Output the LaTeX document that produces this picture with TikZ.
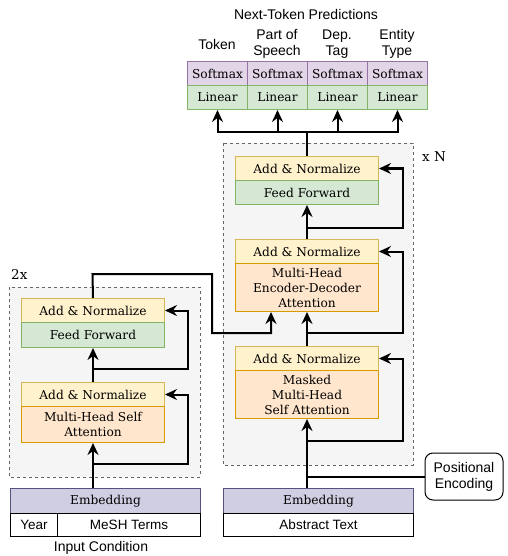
\documentclass[tikz,border=0pt]{standalone}
\usepackage{fontspec}
\setmainfont{DejaVu Serif}
\newfontfamily\labelfont{Liberation Sans}
\usetikzlibrary{arrows.meta,calc}
\definecolor{anF}{HTML}{FFF2CC}\definecolor{anD}{HTML}{D6B656}
\definecolor{ffF}{HTML}{D5E8D4}\definecolor{ffD}{HTML}{82B366}
\definecolor{mhF}{HTML}{FFE6CC}\definecolor{mhD}{HTML}{D79B00}
\definecolor{smF}{HTML}{E1D5E7}\definecolor{smD}{HTML}{9673A6}
\definecolor{emF}{HTML}{D0CEE2}\definecolor{emD}{HTML}{56517E}
\definecolor{bgF}{HTML}{F5F5F5}\definecolor{bgD}{HTML}{666666}
\tikzset{
  base/.style={draw, line width=1pt, anchor=north west, inner sep=0pt, align=center,
    font=\fontsize{12.2}{15}\selectfont},
  addn/.style={base, fill=anF, draw=anD},
  ffwd/.style={base, fill=ffF, draw=ffD},
  mha/.style={base, fill=mhF, draw=mhD},
  smx/.style={base, fill=smF, draw=smD},
  lin/.style={base, fill=ffF, draw=ffD},
  emb/.style={base, fill=emF, draw=emD},
  plain/.style={base, fill=white, draw=black, font=\labelfont\fontsize{13.5}{15}\selectfont},
  lbl/.style={font=\labelfont\fontsize{14}{16}\selectfont, align=center, inner sep=0pt},
  grp/.style={draw=bgD, fill=bgF, dashed, line width=0.8pt},
  arr/.style={line width=2pt, -{Stealth[length=12pt,width=11pt,inset=4pt]}},
  ln/.style={line width=2pt},
}
\begin{document}
\begin{tikzpicture}[x=1pt,y=-1pt]
\useasboundingbox (0,0) rectangle (507,556);
% groups
\draw[grp] (223,143) rectangle (413,465);
\draw[grp] (9,287) rectangle (200,477);
\node[font=\fontsize{13.5}{15}\selectfont, anchor=west, inner sep=0pt] (xn) at (422,157) {x N};
\node[font=\fontsize{13.5}{15}\selectfont, anchor=west, inner sep=0pt] (tx) at (11,274) {2x};
% top
\node[lbl] (title) at (306,14) {Next-Token Predictions};
\node[lbl] (t1) at (217,44) {Token};
\node[lbl] (t2) at (277,44) {Part of\\Speech};
\node[lbl] (t3) at (337,44) {Dep.\\Tag};
\node[lbl] (t4) at (397,44) {Entity\\Type};
\foreach \i/\x in {1/187,2/247,3/307,4/367}{
  \node[smx, minimum width=60pt, minimum height=24pt] (sm\i) at (\x,61) {Softmax};
  \node[lin, minimum width=60pt, minimum height=24pt] (li\i) at (\x,85) {Linear};
}
% decoder
\node[addn, minimum width=143pt, minimum height=24pt] (dA1) at (235,156) {Add \& Normalize};
\node[ffwd, minimum width=143pt, minimum height=24pt] (dF1) at (235,180) {Feed Forward};
\node[addn, minimum width=143pt, minimum height=24pt] (dA2) at (235,239) {Add \& Normalize};
\node[mha, minimum width=143pt, minimum height=48pt] (dM2) at (235,263) {Multi-Head\\Encoder-Decoder\\Attention};
\node[addn, minimum width=143pt, minimum height=24pt] (dA3) at (235,346) {Add \& Normalize};
\node[mha, minimum width=143pt, minimum height=48pt] (dM3) at (235,370) {Masked\\Multi-Head\\Self Attention};
% encoder
\node[addn, minimum width=143pt, minimum height=24pt] (eA1) at (21,298) {Add \& Normalize};
\node[ffwd, minimum width=143pt, minimum height=25pt] (eF1) at (21,322) {Feed Forward};
\node[addn, minimum width=143pt, minimum height=24pt] (eA2) at (21,382) {Add \& Normalize};
\node[mha, minimum width=143pt, minimum height=36pt] (eM2) at (21,406) {Multi-Head Self\\Attention};
% embeddings
\node[emb, minimum width=190pt, minimum height=25pt] (emL) at (10,488) {Embedding};
\node[plain, minimum width=47pt, minimum height=23pt] (yr) at (10,513) {Year};
\node[plain, minimum width=143pt, minimum height=23pt] (ms) at (57,513) {MeSH Terms};
\node[emb, minimum width=190pt, minimum height=25pt] (emR) at (223,488) {Embedding};
\node[plain, minimum width=190pt, minimum height=23pt] (ab) at (223,513) {Abstract Text};
\node[lbl] (ic) at (101,548) {Input Condition};
\node[draw, line width=1pt, rounded corners=8pt, fill=white, minimum width=78pt, minimum height=47pt,
  lbl, inner sep=0pt] (pe) at (464,476.5) {Positional\\Encoding};
% coordinates
\coordinate (j) at (307,132);
\coordinate (dR1) at (306.5,228);
\coordinate (dR2) at (306.5,333);
\coordinate (dR3) at (306.5,441);
\coordinate (eR1) at (92.5,369);
\coordinate (eR2) at (92.5,464);
\coordinate (eo1) at (92.5,274);
\coordinate (eo2) at (212,274);
\coordinate (eo3) at (212,333);
\coordinate (eo4) at (271,333);
% connectors: top
\draw[ln] (dA1.north) -- (j);
\foreach \i in {1,2,3,4}{ \draw[arr] (j) -| (li\i.south); }
% decoder
\draw[arr] (dM3.south |- emR.north) -- (dM3.south);
\draw[ln] (pe.west) -- (pe.west -| dM3.south);
\draw[arr] (dR3) -| ([xshift=24pt]dA3.east) -- (dA3.east);
\draw[arr] (dA3.north) -- (dM2.south);
\draw[arr] (dR2) -| ([xshift=24pt]dA2.east) -- (dA2.east);
\draw[arr] (dA2.north) -- (dF1.south);
\draw[arr] (dR1) -| ([xshift=24pt]dA1.east) -- (dA1.east);
% encoder
\draw[arr] (eM2.south |- emL.north) -- (eM2.south);
\draw[arr] (eR2) -| ([xshift=23pt]eA2.east) -- (eA2.east);
\draw[arr] (eA2.north) -- (eF1.south);
\draw[arr] (eR1) -| ([xshift=23pt]eA1.east) -- (eA1.east);
\draw[arr] (eA1.north) -- (eo1) -- (eo2) -- (eo3) -- (eo4) -- (eo4 |- dM2.south);
\end{tikzpicture}
\end{document}
